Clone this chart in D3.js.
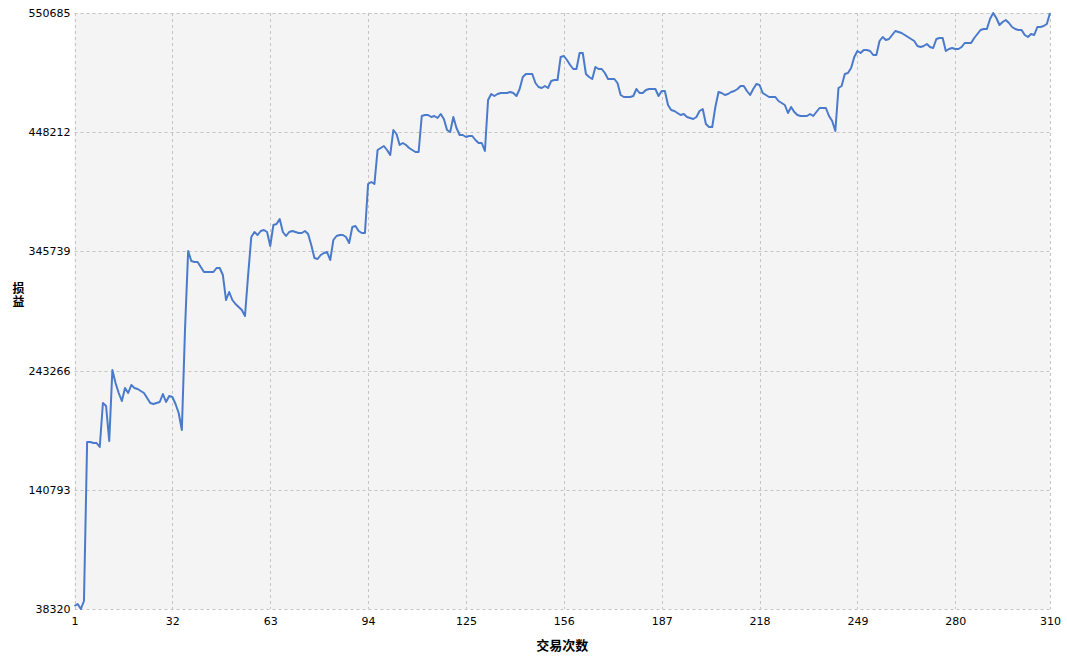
<!DOCTYPE html>
<html>
<head>
<meta charset="utf-8">
<script src="https://cdn.jsdelivr.net/npm/d3@7"></script>
<style>
body { margin: 0; background: #fff; }
svg text { font-family: "DejaVu Sans", sans-serif; }
.label { font-family: "Noto Sans CJK SC", sans-serif !important; font-weight: bold; }
</style>
</head>
<body>
<svg id="chart" width="1067" height="659"></svg>
<script>
// 累计损益, one value per trade (trade 1..310)
const pnl = [
40899, 42618, 38320, 45197, 181885, 181885, 181025, 181025, 177587, 215412,
212833, 182745, 243781, 232605, 224009, 217131, 228307, 224009, 230886, 228307,
227447, 225728, 224009, 219710, 215412, 214552, 215412, 216272, 223149, 216272,
221430, 220570, 214552, 206815, 192201, 278168, 346082, 337485, 336625, 336625,
332327, 328029, 328029, 328029, 328029, 331467, 331467, 325450, 303958, 310835,
303958, 300519, 297940, 295361, 290203, 325450, 358117, 362416, 359837, 363275,
364135, 362416, 350380, 368433, 369293, 373591, 362416, 358977, 362416, 363275,
362416, 361556, 361556, 363275, 360696, 351240, 340064, 339205, 342643, 344363,
345222, 338345, 355538, 358977, 359837, 359837, 358117, 352959, 366714, 367574,
363275, 361556, 361556, 403680, 405399, 403680, 432909, 434628, 436347, 432909,
428610, 450102, 446663, 437207, 438926, 437207, 434628, 432909, 431189, 431189,
462137, 462997, 462997, 461278, 462137, 460418, 463857, 459558, 450102, 448383,
461278, 451821, 445804, 445804, 444084, 444944, 444944, 441505, 438926, 438926,
432049, 475892, 481050, 479331, 481050, 481910, 481910, 481910, 482769, 481910,
479331, 485348, 495664, 498243, 498243, 498243, 490506, 487068, 486208, 487927,
486208, 492226, 493085, 493085, 512858, 513718, 510279, 505980, 502542, 502542,
516297, 516297, 498243, 495664, 493945, 504261, 502542, 502542, 499103, 493945,
493945, 493945, 490506, 480190, 478471, 478471, 478471, 479331, 485348, 481910,
481910, 484489, 485348, 485348, 485348, 479331, 483629, 483629, 471594, 467295,
466436, 464716, 462997, 463857, 461278, 460418, 459558, 461278, 466436, 468155,
455260, 452681, 452681, 469874, 482769, 481910, 480190, 481050, 482769, 483629,
485348, 487927, 487927, 483629, 480190, 485348, 489647, 488787, 481910, 480190,
478471, 478471, 478471, 475032, 473313, 471594, 464716, 469874, 465576, 462997,
462137, 462137, 462137, 463857, 462137, 465576, 469015, 469015, 469015, 462137,
457839, 449242, 486208, 487927, 498243, 499103, 503401, 512858, 518016, 516297,
518876, 518876, 518016, 514577, 514577, 526613, 530051, 527472, 528332, 531771,
535209, 534350, 533490, 531771, 530051, 528332, 526613, 522314, 521455, 522314,
524034, 521455, 520595, 528332, 529192, 529192, 518016, 519735, 520595, 519735,
519735, 521455, 524893, 524893, 524893, 529192, 532630, 536069, 536929, 536929,
545525, 550685, 546385, 540367, 542946, 544666, 542087, 538648, 536929, 536069,
536069, 531771, 530051, 532630, 531771, 538648, 538648, 539508, 541227, 550685
];
const xTicks = [1, 32, 63, 94, 125, 156, 187, 218, 249, 280, 310];
const yTicks = [38320, 140793, 243266, 345739, 448212, 550685];
const xTitle = "交易次数";
const yTitle = "损益";

const plotLeft = 74.5, plotRight = 1050, plotTop = 13, plotBottom = 609;
const svg = d3.select("#chart");

const x = d3.scaleLinear().domain([1, pnl.length]).range([plotLeft, plotRight]);
const y = d3.scaleLinear().domain([d3.min(pnl), d3.max(pnl)]).range([plotBottom, plotTop]);

// plot background
svg.append("rect")
  .attr("x", plotLeft).attr("y", plotTop)
  .attr("width", plotRight - plotLeft).attr("height", plotBottom - plotTop)
  .attr("fill", "#f4f4f4");

// grid
svg.append("g").selectAll("line").data(xTicks).join("line")
  .attr("x1", d => Math.round(x(d)) + 0.5).attr("x2", d => Math.round(x(d)) + 0.5)
  .attr("y1", plotTop).attr("y2", plotBottom)
  .attr("stroke", "#c4c4c4").attr("stroke-dasharray", "3,3");
svg.append("g").selectAll("line").data(yTicks).join("line")
  .attr("x1", plotLeft).attr("x2", plotRight)
  .attr("y1", d => Math.round(y(d)) + 0.5).attr("y2", d => Math.round(y(d)) + 0.5)
  .attr("stroke", "#c4c4c4").attr("stroke-dasharray", "3,3");

// axes (labels only)
const xAxis = d3.axisBottom(x).tickValues(xTicks).tickSize(0).tickPadding(8).tickFormat(d3.format("d"));
const yAxis = d3.axisLeft(y).tickValues(yTicks).tickSize(0).tickPadding(4).tickFormat(d3.format("d"));

svg.append("g").attr("transform", `translate(0,${plotBottom})`).call(xAxis)
  .call(g => g.select(".domain").remove())
  .selectAll("text").attr("font-size", 11).attr("fill", "#000")
  .attr("font-family", "DejaVu Sans");
svg.append("g").attr("transform", `translate(${plotLeft},0)`).call(yAxis)
  .call(g => g.select(".domain").remove())
  .selectAll("text").attr("font-size", 11).attr("fill", "#000")
  .attr("font-family", "DejaVu Sans");

// line
const line = d3.line()
  .x((d, i) => x(i + 1))
  .y(d => y(d));

svg.append("path")
  .datum(pnl)
  .attr("d", line)
  .attr("fill", "none")
  .attr("stroke", "#4a7acb")
  .attr("stroke-width", 2)
  .attr("stroke-linejoin", "round");

// titles
svg.append("text")
  .attr("class", "label")
  .attr("x", (plotLeft + plotRight) / 2).attr("y", 650)
  .attr("text-anchor", "middle")
  .attr("font-size", 13)
  .text(xTitle);

svg.append("text")
  .attr("class", "label")
  .attr("x", 18.5).attr("y", 295)
  .attr("text-anchor", "middle")
  .attr("font-size", 12)
  .style("writing-mode", "vertical-rl")
  .style("text-orientation", "upright")
  .style("letter-spacing", "1px")
  .text(yTitle);
</script>
</body>
</html>
